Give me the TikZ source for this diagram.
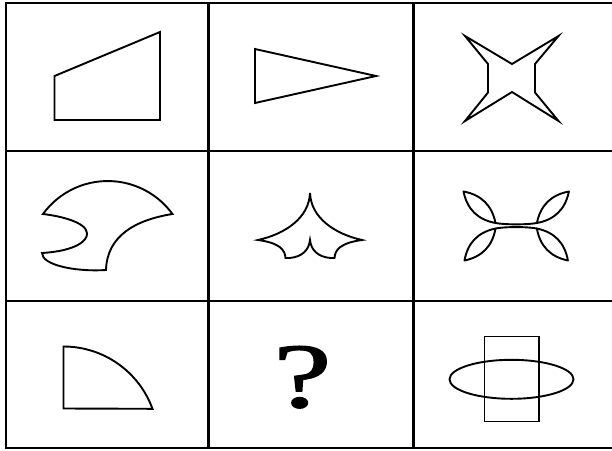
\documentclass[tikz,border=0pt]{standalone}
\usepackage{fontspec}
\newfontfamily\qfont[FakeBold=1.3]{Liberation Serif}
\usepackage{tikz}
\usetikzlibrary{calc}

\begin{document}
\begin{tikzpicture}[
    x=1pt, y=-1pt,
    gridline/.style={draw=black, line width=2.8pt},
    figure/.style={draw=black, line width=1.9pt, line join=miter},
    leaf/.style={figure, line join=round}
]

    % 0. Canvas
    \useasboundingbox (0,0) rectangle (612,450);
    \fill[white] (0,0) rectangle (612,450);

    % 1. The 3x3 grid (right border lies outside the picture)
    \draw[gridline] (6,3) rectangle (616,448);
    \foreach \x in {208.5, 413.5} {
        \draw[gridline] (\x,3) -- (\x,448);
    }
    \foreach \y in {151, 301} {
        \draw[gridline] (6,\y) -- (616,\y);
    }

    % 2. Row 1
    % Trapezoid
    \draw[figure] (54.5,120) -- (160,120) -- (160,32) -- (54.5,76) -- cycle;
    % Triangle pointing right
    \draw[figure] (255,49) -- (376,76) -- (255,103) -- cycle;
    % Four-pointed star
    \draw[figure] (465,36) -- (512,64) -- (558.5,36) -- (535,64) -- (535,92.5)
        -- (558.5,121) -- (512,92) -- (465,121) -- (488,92.5) -- (488,64) -- cycle;

    % 3. Row 2
    % Bitten fan
    \draw[figure] (43,214) arc[start angle=216, end angle=324, radius=80]
        .. controls (135,220) and (107,236) .. (106,270)
        .. controls (75,272) and (42,265) .. (42,253)
        .. controls (75,251) and (88,241) .. (87,233)
        .. controls (86,222) and (60,216) .. (43,214) -- cycle;
    % Cusped crown
    \draw[figure] (310,193) .. controls (309,218) and (285,234) .. (258,240)
        .. controls (280,243) and (285,250) .. (285.5,258) -- (289.5,258)
        .. controls (302,257) and (309,250) .. (310,240)
        .. controls (311,250) and (318,257) .. (330.5,258) -- (334.5,258)
        .. controls (335,250) and (340,243) .. (362,240)
        .. controls (335,234) and (311,218) .. (310,193) -- cycle;
    % Four leaves (mirrored pairs) and a waist
    \foreach \s in {1,-1} {
        \begin{scope}[shift={(516.2,0)}, xscale=\s]
            \draw[leaf] (-52.7,191.5) .. controls (-34.9,194.8) and (-24.3,205.3) .. (-20.7,223)
                .. controls (-38.5,219.7) and (-49.1,209.2) .. cycle;
            \draw[leaf] (-51.7,260.5) .. controls (-34.2,256.8) and (-23.8,246.2) .. (-20.7,228.5)
                .. controls (-38.2,232.2) and (-48.6,242.8) .. cycle;
        \end{scope}
    }
    \draw[leaf] (495.5,223) .. controls (505,224.8) and (527,224.8) .. (536.9,223);
    \draw[leaf] (495.5,228.5) .. controls (505,226.6) and (527,226.6) .. (536.9,228.5);

    % 4. Row 3
    % Quarter disc
    \draw[figure] (63.5,408.5) -- (63.5,346.5)
        arc[start angle=270, end angle=340, radius=94.7] -- cycle;
    % The missing one
    \node[font=\qfont\fontsize{92}{92}\selectfont, xscale=1.42,
        anchor=base, inner sep=0pt] (qmark) at (302.5,407) {?};
    % Ellipse through a rectangle
    \draw[figure] (484.5,336.5) rectangle (539,421.5);
    \draw[figure] (511.5,379.3) ellipse [x radius=62, y radius=19.5];

\end{tikzpicture}
\end{document}
